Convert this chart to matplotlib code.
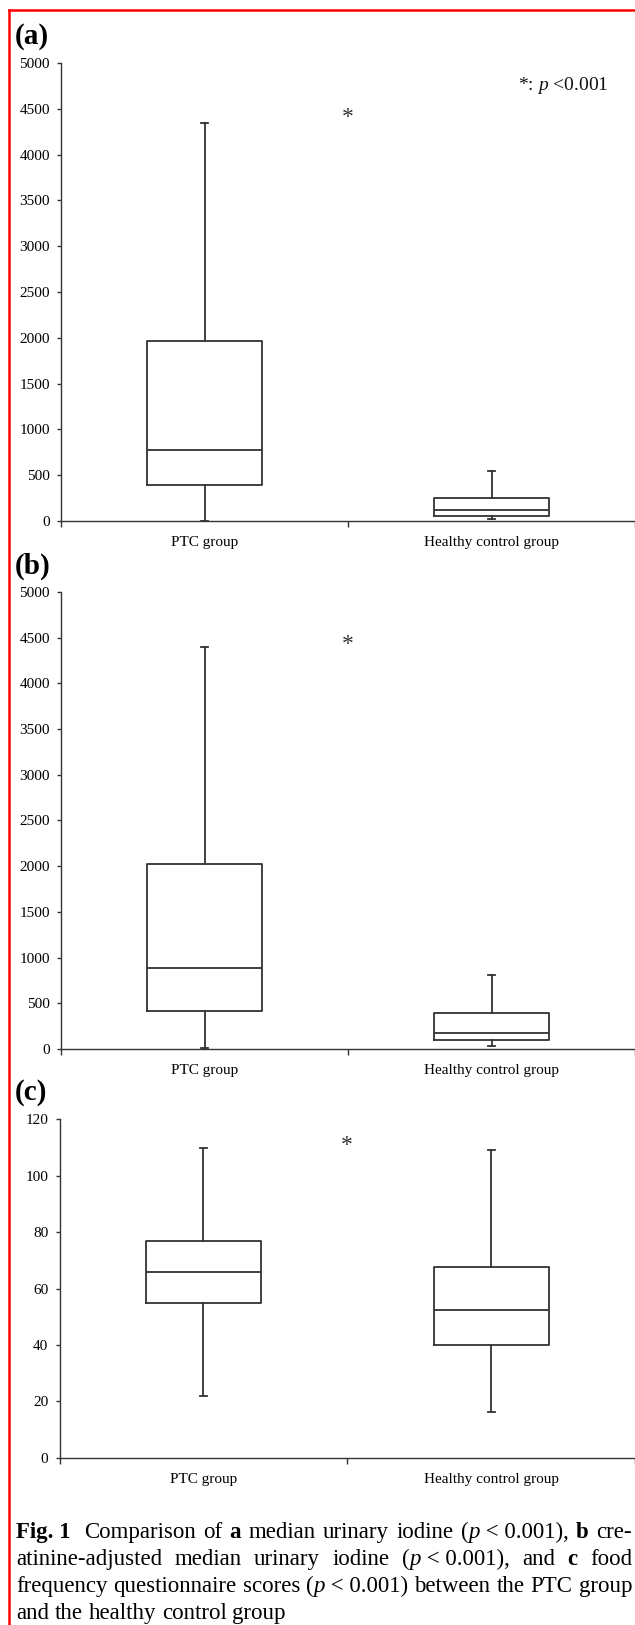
import re
import matplotlib
matplotlib.use('Agg')
import matplotlib.pyplot as plt
from matplotlib.lines import Line2D

plt.rcParams['font.family'] = ['Liberation Serif', 'DejaVu Serif']
plt.rcParams['mathtext.fontset'] = 'custom'
plt.rcParams['mathtext.rm'] = 'Liberation Serif'
plt.rcParams['mathtext.it'] = 'Liberation Serif:italic'

# ---- data (whislo, q1, median, q3, whishi) ----
groups = ['PTC group', 'Healthy control group']
uic_ptc = [5, 390, 780, 1960, 4340]
uic_hc = [25, 60, 120, 250, 550]
cr_uic_ptc = [8, 420, 890, 2020, 4400]
cr_uic_hc = [30, 100, 180, 390, 810]
ffq_ptc = [22, 55, 66, 77, 110]
ffq_hc = [16.3, 40, 52.5, 67.5, 109]

uic_ticks = [0, 500, 1000, 1500, 2000, 2500, 3000, 3500, 4000, 4500, 5000]
ffq_ticks = [0, 20, 40, 60, 80, 100, 120]
star_y = [4400, 4430, 110.8]
panel_tags = ['(a)', '(b)', '(c)']

caption = [
    "**Fig.~1~** Comparison of **a** median urinary iodine (_p_~<~0.001), **b** cre-",
    "atinine-adjusted median urinary iodine (_p_~<~0.001), and **c** food",
    "frequency questionnaire scores (_p_~<~0.001) between the PTC group",
    "and the healthy control group",
]

W, H = 635, 1625
ink = '#333333'

fig = plt.figure(figsize=(W / 100, H / 100), dpi=100)


def stats(v):
    return dict(whislo=v[0], q1=v[1], med=v[2], q3=v[3], whishi=v[4], fliers=[])


panels = [
    (uic_ptc, uic_hc, uic_ticks, (61, 63, 521)),
    (cr_uic_ptc, cr_uic_hc, uic_ticks, (61, 592, 1049)),
    (ffq_ptc, ffq_hc, ffq_ticks, (59.5, 1119.3, 1457.7)),
]

for k, (ptc, hc, ticks, (l, t, b)) in enumerate(panels):
    ax = fig.add_axes([l / W, 1 - b / H, 1 - l / W, (b - t) / H])
    lp = dict(color=ink, linewidth=1.3)
    ax.bxp([stats(ptc), stats(hc)], positions=[0.5, 1.5], widths=0.4,
           capwidths=0.025, showfliers=False, manage_ticks=False,
           boxprops=lp, whiskerprops=lp, capprops=lp, medianprops=lp)
    ax.set_xlim(0, 2)
    ax.set_ylim(ticks[0], ticks[-1])
    ax.set_yticks(ticks)
    ax.set_xticks([0, 1, 2])
    ax.set_xticklabels([])
    ax.set_xticks([0.5, 1.5], minor=True)
    ax.set_xticklabels(groups, minor=True)
    for s in ['top', 'right']:
        ax.spines[s].set_visible(False)
    for s in ['left', 'bottom']:
        ax.spines[s].set_color(ink)
        ax.spines[s].set_linewidth(1.0)
    ax.tick_params(axis='y', direction='out', length=3, width=1.0, color=ink,
                   labelsize=11, pad=5)
    ax.tick_params(axis='x', which='major', direction='out', length=4,
                   width=1.0, color=ink)
    ax.tick_params(axis='x', which='minor', length=0, labelsize=11, pad=11)
    ax.text(1, star_y[k], '*', ha='center', va='center', fontsize=17,
            color=ink)
    ax.patch.set_alpha(0)
    fig.text(15 / W, 1 - (36 + [0, 530, 1056][k]) / H, panel_tags[k],
             fontsize=21, fontweight='bold', va='center', ha='left')

fig.text(518 / W, 1 - 85 / H, r'*: $\mathit{p}$ <0.001', fontsize=14,
         va='center', ha='left', color='#111111')

# ---- red frame (left and top edges visible) ----
fig.add_artist(Line2D([9 / W, 9 / W], [0, 1 - 10 / H], color='red',
                      linewidth=1.8, transform=fig.transFigure))
fig.add_artist(Line2D([9 / W, 1], [1 - 10 / H, 1 - 10 / H], color='red',
                      linewidth=1.8, transform=fig.transFigure))

# ---- justified caption ----
cap_size = 16.5
styles = {'n': {}, 'b': {'fontweight': 'bold'}, 'i': {'fontstyle': 'italic'}}
fig.canvas.draw()
rend = fig.canvas.get_renderer()


def text_w(s, st):
    tmp = fig.text(0, 0, s, fontsize=cap_size, **styles[st])
    w = tmp.get_window_extent(rend).width
    tmp.remove()
    return w


def run_w(s, st):
    return text_w('|' + s + '|', st) - text_w('||', st)


def parse(word):
    runs = []
    for m in re.finditer(r'\*\*(.+?)\*\*|_(.+?)_|([^*_]+)', word):
        if m.group(1):
            runs.append((m.group(1).replace('~', ' '), 'b'))
        elif m.group(2):
            runs.append((m.group(2).replace('~', ' '), 'i'))
        else:
            runs.append((m.group(3).replace('~', ' '), 'n'))
    return runs


x0, x1 = 16, 632
base = [1538, 1565, 1592, 1619]
space = run_w(' ', 'n')
for li, line in enumerate(caption):
    words = [parse(w) for w in line.split(' ')]
    widths = [sum(run_w(s, st) for s, st in w) for w in words]
    if li < len(caption) - 1:
        gap = (x1 - x0 - sum(widths)) / (len(words) - 1)
    else:
        gap = space
    x = x0
    for w, ww in zip(words, widths):
        xx = x
        for s, st in w:
            fig.text(xx / W, 1 - base[li] / H, s, fontsize=cap_size,
                     va='baseline', ha='left', **styles[st])
            xx += run_w(s, st)
        x += ww + gap

fig.savefig('out.png', dpi=100)
